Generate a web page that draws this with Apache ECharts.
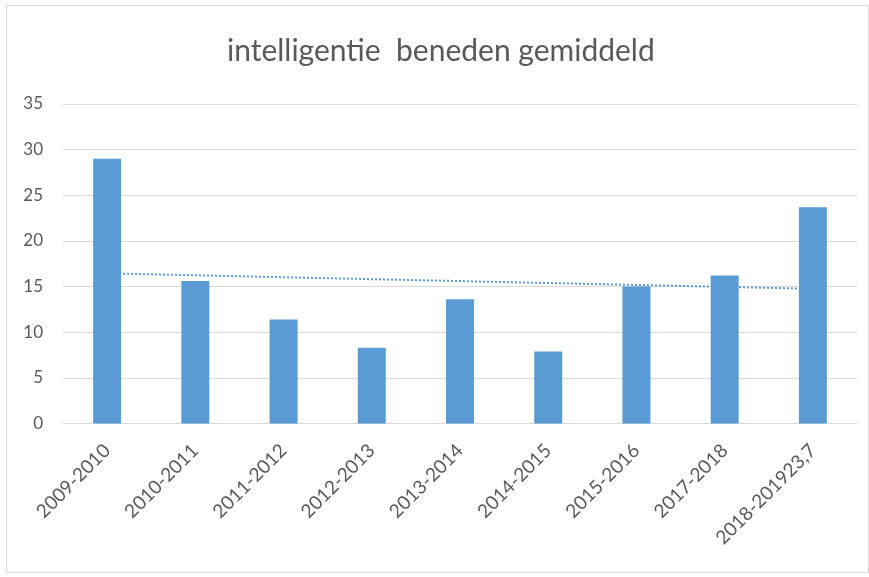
<!DOCTYPE html>
<html>
<head>
<meta charset="utf-8">
<script src="https://cdn.jsdelivr.net/npm/echarts@6/dist/echarts.min.js"></script>
<style>
  html, body { margin: 0; padding: 0; background: #fff; }
  #chart { width: 869px; height: 577px; }
  .frame { position: absolute; left: 6px; top: 5px; width: 861px; height: 566px; border: 1px solid #d9d9d9; pointer-events: none; }
</style>
</head>
<body>
<div id="chart"></div>
<div class="frame"></div>
<script>
const years = ['2009-2010', '2010-2011', '2011-2012', '2012-2013', '2013-2014', '2014-2015', '2015-2016', '2017-2018', '2018-201923,7']
const values = [29, 15.6, 11.4, 8.3, 13.6, 7.9, 15, 16.2, 23.7]
// trendline as drawn in the picture: start and end values only
const trend = [16.45, null, null, null, null, null, null, null, 14.75]

const chart = echarts.init(document.getElementById('chart'), null, { renderer: 'canvas' })
chart.setOption({
  animation: false,
  textStyle: { fontFamily: 'Lato, "Open Sans", sans-serif' },
  title: {
    text: 'intelligentie  beneden gemiddeld', left: 222, top: 31,
    textStyle: { color: '#595959', fontSize: 30, fontWeight: 'normal', fontFamily: 'Lato, "Open Sans", sans-serif' }
  },
  grid: { left: 63, right: 12, top: 104, bottom: 153.5 },
  xAxis: {
    type: 'category', data: years,
    axisLine: { lineStyle: { color: '#d9d9d9' } },
    axisTick: { show: false },
    axisLabel: { color: '#595959', fontSize: 19, rotate: 45, margin: 24, interval: 0 }
  },
  yAxis: {
    type: 'value', min: 0, max: 35, interval: 5,
    axisLine: { show: false }, axisTick: { show: false },
    axisLabel: { color: '#595959', fontSize: 17, margin: 20 },
    splitLine: { lineStyle: { color: '#d9d9d9' } }
  },
  series: [
    { name: 'trend', type: 'line', data: trend, connectNulls: true, symbol: 'none', z: 1,
      lineStyle: { color: '#5b9bd5', width: 2, type: [2, 2] } },
    { name: 'waarde', type: 'bar', data: values, barWidth: 28, z: 2,
      itemStyle: { color: '#5b9bd5' } }
  ]
})
</script>
</body>
</html>
